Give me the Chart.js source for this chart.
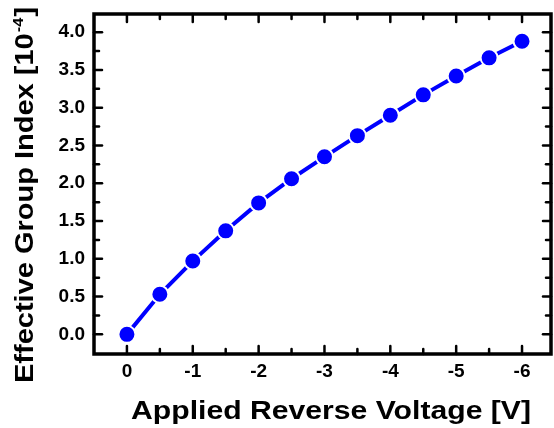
<!DOCTYPE html>
<html>
<head>
<meta charset="utf-8">
<script src="https://cdn.jsdelivr.net/npm/chart.js@4.4.1/dist/chart.umd.min.js"></script>
<style>
  html, body { margin: 0; padding: 0; background: #fff; }
  #wrap { width: 554px; height: 428px; }
</style>
</head>
<body>
<div id="wrap"><canvas id="chart" width="554" height="428"></canvas></div>
<script>
const voltages = [0, -0.5, -1, -1.5, -2, -2.5, -3, -3.5, -4, -4.5, -5, -5.5, -6];
const groupIndex = [0, 0.53, 0.97, 1.37, 1.74, 2.06, 2.35, 2.63, 2.90, 3.17, 3.42, 3.66, 3.88];
const xTickValues = [0, -1, -2, -3, -4, -5, -6];
const xMinorValues = [-0.5, -1.5, -2.5, -3.5, -4.5, -5.5];
const yTickValues = [0, 0.5, 1, 1.5, 2, 2.5, 3, 3.5, 4];
const yMinorValues = [0.25, 0.75, 1.25, 1.75, 2.25, 2.75, 3.25, 3.75];

const FONT = '"Liberation Sans", Arial, sans-serif';
const STRETCH = 1.16; // the original lettering is a bit wider than Arial

// frame with inward ticks on all four sides, plus axis titles
const framePlugin = {
    id: 'frame',
    afterDraw(chart) {
        const ctx = chart.ctx;
        const a = chart.chartArea;
        const xs = chart.scales.x, ys = chart.scales.y;
        ctx.save();
        ctx.strokeStyle = '#000';
        ctx.lineCap = 'round';
        ctx.lineWidth = 2.5;
        const tick = (x1, y1, x2, y2) => {
            ctx.beginPath(); ctx.moveTo(x1, y1); ctx.lineTo(x2, y2); ctx.stroke();
        };
        xTickValues.forEach(v => {
            const x = xs.getPixelForValue(v);
            tick(x, a.bottom, x, a.bottom - 8);
            tick(x, a.top, x, a.top + 8);
        });
        xMinorValues.forEach(v => {
            const x = xs.getPixelForValue(v);
            tick(x, a.bottom, x, a.bottom - 5);
            tick(x, a.top, x, a.top + 5);
        });
        yTickValues.forEach(v => {
            const y = ys.getPixelForValue(v);
            tick(a.left, y, a.left + 8, y);
            tick(a.right, y, a.right - 8, y);
        });
        yMinorValues.forEach(v => {
            const y = ys.getPixelForValue(v);
            tick(a.left, y, a.left + 5, y);
            tick(a.right, y, a.right - 5, y);
        });
        ctx.lineCap = 'square';
        ctx.lineWidth = 3.5;
        ctx.strokeRect(a.left, a.top, a.right - a.left, a.bottom - a.top);

        // x title
        ctx.fillStyle = '#000';
        ctx.save();
        ctx.translate(331, 419);
        ctx.scale(STRETCH, 1);
        ctx.font = 'bold 26px ' + FONT;
        ctx.textAlign = 'center';
        ctx.textBaseline = 'alphabetic';
        ctx.fillText('Applied Reverse Voltage [V]', 0, 0);
        ctx.restore();

        // y title, rotated, with superscript exponent
        ctx.translate(33, 383);
        ctx.rotate(-Math.PI / 2);
        ctx.scale(STRETCH, 1);
        ctx.textAlign = 'left';
        ctx.textBaseline = 'alphabetic';
        const main = 'Effective Group Index [10';
        ctx.font = 'bold 25px ' + FONT;
        ctx.fillText(main, 0, 0);
        let w = ctx.measureText(main).width;
        ctx.font = 'bold 14px ' + FONT;
        ctx.fillText('-4', w + 1, -10);
        w += ctx.measureText('-4').width + 2;
        ctx.font = 'bold 25px ' + FONT;
        ctx.fillText(']', w, 0);
        ctx.restore();
    }
};

new Chart(document.getElementById('chart'), {
    type: 'line',
    data: {
        datasets: [{
            data: voltages.map((v, i) => ({ x: v, y: groupIndex[i] })),
            borderColor: '#0000ff',
            borderWidth: 4,
            backgroundColor: '#0000ff',
            pointBackgroundColor: '#0000ff',
            pointBorderColor: '#ffffff',
            pointBorderWidth: 2,
            pointRadius: 8.5,
            tension: 0
        }]
    },
    options: {
        responsive: false,
        animation: false,
        devicePixelRatio: 1,
        layout: { autoPadding: false, padding: { left: 0, top: 14, right: 3, bottom: 0 } },
        plugins: { legend: { display: false }, tooltip: { enabled: false } },
        scales: {
            x: {
                type: 'linear',
                reverse: true,
                min: -6.44,
                max: 0.5,
                grid: { display: false, drawTicks: false },
                border: { display: false },
                afterBuildTicks: s => { s.ticks = xTickValues.map(v => ({ value: v })); },
                afterFit: s => { s.height = 74; s.paddingLeft = 0; s.paddingRight = 0; },
                ticks: {
                    padding: 6,
                    color: '#000',
                    font: { family: FONT, size: 19, weight: 'bold' },
                    callback: v => String(v)
                }
            },
            y: {
                type: 'linear',
                min: -0.26,
                max: 4.24,
                grid: { display: false, drawTicks: false },
                border: { display: false },
                afterBuildTicks: s => { s.ticks = yTickValues.map(v => ({ value: v })); },
                afterFit: s => { s.width = 94; s.paddingTop = 0; s.paddingBottom = 0; },
                ticks: {
                    padding: 9,
                    color: '#000',
                    font: { family: FONT, size: 19, weight: 'bold' },
                    callback: v => v.toFixed(1)
                }
            }
        }
    },
    plugins: [framePlugin]
});
</script>
</body>
</html>
